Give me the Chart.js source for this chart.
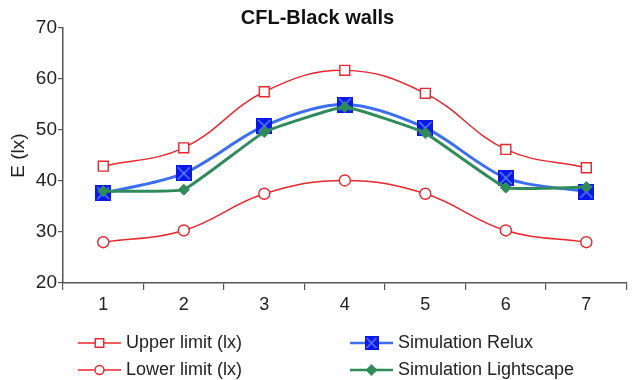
<!DOCTYPE html>
<html>
<head>
<meta charset="utf-8">
<script src="https://cdn.jsdelivr.net/npm/chart.js@4.4.1/dist/chart.umd.min.js"></script>
<style>
  html, body { margin: 0; padding: 0; background: #fff; }
  #wrap { width: 635px; height: 380px; }
</style>
</head>
<body>
<div id="wrap"><canvas id="chartCanvas" width="635" height="380"></canvas></div>
<script>
const categories = ["1", "2", "3", "4", "5", "6", "7"]
const upperLimit = [42.9, 46.5, 57.5, 61.7, 57.2, 46.2, 42.6]
const lowerLimit = [28.0, 30.3, 37.5, 40.1, 37.5, 30.3, 28.0]
const relux = [37.6, 41.5, 50.8, 55.0, 50.4, 40.6, 37.9]
const lightscape = [38.0, 38.3, 49.6, 54.5, 49.4, 38.7, 38.8]
const yTicks = [20, 30, 40, 50, 60, 70]

const RED = "#e8262b"
const BLUE_LINE = "#3c6ef2"
const BLUE_MARK = "#0b18e8"
const GREEN = "#2f8c5a"
const FONT = "Liberation Sans, Arial, sans-serif"

// blue square with an X, used as the Relux marker
function makeReluxMarker(size){
    const c = document.createElement("canvas")
    c.width = size
    c.height = size
    const g = c.getContext("2d")
    g.fillStyle = BLUE_MARK
    g.fillRect(0, 0, size, size)
    g.strokeStyle = "#5f86ff"
    g.lineWidth = 1.4
    g.beginPath()
    g.moveTo(2, 2); g.lineTo(size - 2, size - 2)
    g.moveTo(size - 2, 2); g.lineTo(2, size - 2)
    g.stroke()
    return c
}
const reluxMarker = makeReluxMarker(16)
const reluxLegendMarker = makeReluxMarker(14)

const legendItems = [
    {label: "Upper limit (lx)", x: 78, y: 343, color: RED, width: 1.4, style: "rect", r: 6},
    {label: "Lower limit (lx)", x: 78, y: 370, color: RED, width: 1.4, style: "circle", r: 4.5},
    {label: "Simulation Relux", x: 350, y: 343, color: BLUE_LINE, width: 2.5, style: "relux"},
    {label: "Simulation Lightscape", x: 350, y: 370, color: GREEN, width: 2.5, style: "rectRot", r: 5}
]

const legendPlugin = {
    id: "sideLegend",
    afterDraw(chart){
        const ctx = chart.ctx
        ctx.save()
        legendItems.forEach(item => {
            const len = 43
            ctx.strokeStyle = item.color
            ctx.lineWidth = item.width
            ctx.beginPath()
            ctx.moveTo(item.x, item.y)
            ctx.lineTo(item.x + len, item.y)
            ctx.stroke()
            const mx = item.x + len / 2
            if(item.style === "relux"){
                ctx.drawImage(reluxLegendMarker, mx - 7, item.y - 7)
            } else {
                ctx.fillStyle = item.style === "rectRot" ? item.color : "#fff"
                ctx.lineWidth = 1.4
                Chart.helpers.drawPoint(ctx, {pointStyle: item.style, radius: item.r, rotation: 0, borderWidth: 1.4}, mx, item.y)
            }
            ctx.fillStyle = "#222"
            ctx.font = "18px " + FONT
            ctx.textBaseline = "middle"
            ctx.fillText(item.label, item.x + len + 5, item.y)
        })
        ctx.restore()
    }
}

new Chart(document.getElementById("chartCanvas"), {
    type: "line",
    data: {
        labels: categories,
        datasets: [
            {
                label: "Simulation Lightscape",
                data: lightscape,
                borderColor: GREEN,
                backgroundColor: GREEN,
                borderWidth: 3,
                tension: 0.1,
                pointStyle: "rectRot",
                pointRadius: 5.5,
                pointBorderWidth: 1,
                order: 0
            },
            {
                label: "Simulation Relux",
                data: relux,
                borderColor: BLUE_LINE,
                backgroundColor: BLUE_MARK,
                borderWidth: 3,
                tension: 0.3,
                pointStyle: reluxMarker,
                order: 1
            },
            {
                label: "Upper limit (lx)",
                data: upperLimit,
                borderColor: RED,
                backgroundColor: "#fff",
                borderWidth: 1.4,
                tension: 0.4,
                pointStyle: "rect",
                pointRadius: 7,
                pointBorderWidth: 1.4,
                order: 2
            },
            {
                label: "Lower limit (lx)",
                data: lowerLimit,
                borderColor: RED,
                backgroundColor: "#fff",
                borderWidth: 1.4,
                tension: 0.4,
                pointStyle: "circle",
                pointRadius: 5.5,
                pointBorderWidth: 1.4,
                order: 3
            }
        ]
    },
    options: {
        responsive: false,
        animation: false,
        layout: {padding: {top: 0, right: 0, bottom: 0, left: 0}},
        plugins: {
            legend: {display: false},
            tooltip: {enabled: false},
            title: {
                display: true,
                text: "CFL-Black walls",
                color: "#111",
                font: {family: FONT, size: 20, weight: "bold", lineHeight: 1.0},
                padding: {top: 8, bottom: 0}
            }
        },
        scales: {
            x: {
                offset: true,
                grid: {display: true, drawOnChartArea: false, offset: true, tickLength: 7, color: "#555", lineWidth: 1.2},
                border: {color: "#555", width: 1.5},
                ticks: {color: "#222", font: {family: FONT, size: 18}, padding: 4},
                afterFit(scale){ scale.height = 97 }
            },
            y: {
                min: 20,
                max: 70,
                afterBuildTicks(scale){ scale.ticks = yTicks.map(v => ({value: v})) },
                grid: {display: true, drawOnChartArea: false, tickLength: 5, color: "#555", lineWidth: 1.2},
                border: {color: "#555", width: 1.5},
                ticks: {color: "#222", font: {family: FONT, size: 19}, padding: 1},
                title: {
                    display: true,
                    text: "E (lx)",
                    color: "#222",
                    font: {family: FONT, size: 19},
                    padding: {top: 7, bottom: 0}
                },
                afterFit(scale){ scale.width = 63 }
            }
        }
    },
    plugins: [legendPlugin]
})
</script>
</body>
</html>
